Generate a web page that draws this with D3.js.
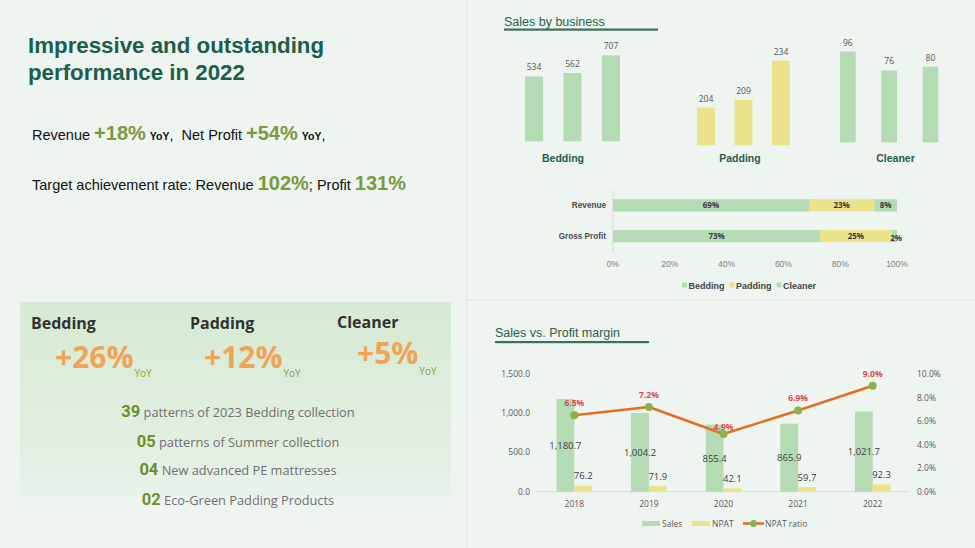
<!DOCTYPE html>
<html><head><meta charset="utf-8">
<script src="https://cdn.jsdelivr.net/npm/d3@7"></script>
<style>
body{margin:0;background:#eef4f0;}
svg{display:block;}
</style>
</head><body>
<svg id="c" width="975" height="548"></svg>
<script>
// ---------------- DATA ----------------
const titleLines = ["Impressive and outstanding", "performance in 2022"];
const yoyMetrics = ["Revenue", "Net Profit"];
const yoyValues = ["+18%", "+54%"];
const targetMetrics = ["Revenue", "Profit"];
const targetValues = ["102%", "131%"];

const businesses = ["Bedding", "Padding", "Cleaner"];
const beddingSales = [534, 562, 707];
const paddingSales = [204, 209, 234];
const cleanerSales = [96, 76, 80];

const shareRows = ["Revenue", "Gross Profit"];
const beddingShare = [69, 73];
const paddingShare = [23, 25];
const cleanerShare = [8, 2];
const shareTicks = [0, 20, 40, 60, 80, 100];

const years = ["2018", "2019", "2020", "2021", "2022"];
const sales = [1180.7, 1004.2, 855.4, 865.9, 1021.7];
const npat = [76.2, 71.9, 42.1, 59.7, 92.3];
const npatRatio = [6.5, 7.2, 4.9, 6.9, 9.0];
const leftTicks = [0, 500, 1000, 1500];
const rightTicks = [0, 2, 4, 6, 8, 10];

const growthNames = ["Bedding", "Padding", "Cleaner"];
const growthValues = ["+26%", "+12%", "+5%"];
const highlightCounts = ["39", "05", "04", "02"];
const highlightTexts = ["patterns of 2023 Bedding collection", "patterns of Summer collection",
  "New advanced PE mattresses", "Eco-Green Padding Products"];

// ---------------- STYLE ----------------
const GREEN = "#b5dbb4", YELLOW = "#ebe38a", ORANGE = "#e2701f", DOT = "#8db04b";
const TEAL = "#1b5e4b", OLIVE = "#7a9a3c";
const SANS = "'Liberation Sans', Arial, sans-serif";
const CAL = "'Open Sans', 'Noto Sans', sans-serif";

const svg = d3.select("#c");
svg.append("rect").attr("width", 975).attr("height", 548).attr("fill", "#eef4f0");

// dividers
svg.append("line").attr("x1", 467).attr("x2", 467).attr("y1", 0).attr("y2", 548).attr("stroke", "#dde4df").attr("stroke-width", 1);
svg.append("line").attr("x1", 469).attr("x2", 469).attr("y1", 0).attr("y2", 548).attr("stroke", "#f7faf8").attr("stroke-width", 1);
svg.append("line").attr("x1", 468).attr("x2", 975).attr("y1", 300).attr("y2", 300).attr("stroke", "#dde4df").attr("stroke-width", 1);
svg.append("line").attr("x1", 468).attr("x2", 975).attr("y1", 302).attr("y2", 302).attr("stroke", "#f7faf8").attr("stroke-width", 1);

// ---------------- TOP LEFT TEXT ----------------
svg.selectAll(".title").data(titleLines).join("text")
  .attr("x", 28).attr("y", (d, i) => 53 + i * 27)
  .attr("font-family", SANS).attr("font-weight", "bold").attr("font-size", 22.3)
  .attr("fill", TEAL).text(d => d);

function richLine(y, parts) {
  const t = svg.append("text").attr("x", 32).attr("y", y).attr("font-family", SANS).attr("fill", "#111")
    .style("white-space", "pre");
  parts.forEach(p => {
    t.append("tspan").text(p.t)
      .attr("font-size", p.s || 14.5)
      .attr("font-weight", p.b ? "bold" : "normal")
      .attr("fill", p.c || "#111");
  });
}
richLine(140, [
  {t: yoyMetrics[0] + " "}, {t: yoyValues[0], s: 20, b: 1, c: OLIVE}, {t: " "}, {t: "YoY", s: 10.5, b: 1},
  {t: ",\u00a0 " + yoyMetrics[1] + " "}, {t: yoyValues[1], s: 20, b: 1, c: OLIVE}, {t: " "}, {t: "YoY", s: 10.5, b: 1}, {t: ","}
]);
richLine(190, [
  {t: "Target achievement rate: " + targetMetrics[0] + " "}, {t: targetValues[0], s: 20, b: 1, c: OLIVE},
  {t: "; " + targetMetrics[1] + " "}, {t: targetValues[1], s: 20, b: 1, c: OLIVE}
]);

// ---------------- BOTTOM LEFT PANEL ----------------
const defs = svg.append("defs");
const grad = defs.append("linearGradient").attr("id", "gpanel").attr("x1", 0).attr("x2", 0).attr("y1", 0).attr("y2", 1);
grad.append("stop").attr("offset", "0%").attr("stop-color", "#d6ead3");
grad.append("stop").attr("offset", "70%").attr("stop-color", "#e1eee0");
grad.append("stop").attr("offset", "100%").attr("stop-color", "#e9f2ea");
svg.append("rect").attr("x", 20).attr("y", 302).attr("width", 431).attr("height", 194).attr("fill", "url(#gpanel)");

const gX = [31, 190, 337];
const gNumX = [55, 204, 357];
const gNumY = [368, 368, 364];
const gYoY = [377, 377, 375];
growthNames.forEach((name, i) => {
  svg.append("text").attr("x", gX[i]).attr("y", i === 2 ? 328 : 329)
    .attr("font-family", CAL).attr("font-weight", "bold").attr("font-size", 16)
    .attr("fill", "#2f3330").text(name);
  const num = svg.append("text").attr("x", gNumX[i]).attr("y", gNumY[i])
    .attr("font-family", CAL).attr("font-weight", "bold").attr("font-size", 30)
    .attr("fill", "#f0a458").text(growthValues[i]);
  const w = num.node().getComputedTextLength();
  svg.append("text").attr("x", gNumX[i] + w + 1).attr("y", gYoY[i])
    .attr("font-family", CAL).attr("font-size", 10).attr("fill", "#8ca33a").text("YoY");
});

const hlY = [417, 447, 475, 505];
highlightCounts.forEach((c, i) => {
  const t = svg.append("text").attr("x", 238).attr("y", hlY[i]).attr("text-anchor", "middle")
    .attr("font-family", CAL);
  t.append("tspan").text(c).attr("font-family", "Roboto, sans-serif").attr("font-weight", "bold")
    .attr("font-size", 16.5).attr("fill", "#6b8f2c");
  t.append("tspan").text(" " + highlightTexts[i]).attr("font-size", 12.8).attr("fill", "#707070");
});

// ---------------- SALES BY BUSINESS ----------------
svg.append("text").attr("x", 504).attr("y", 26).attr("font-family", SANS).attr("font-size", 12.5)
  .attr("fill", "#2b5f4f").text("Sales by business");
svg.append("rect").attr("x", 504).attr("y", 28.5).attr("width", 154).attr("height", 2.2).attr("fill", "#3d6f5f");

const groups = [
  {name: businesses[0], values: beddingSales, color: GREEN, range: [525, 620], pad: 0.53, domain: [0, 800], y: [141.3, 44.1], lx: 563},
  {name: businesses[1], values: paddingSales, color: YELLOW, range: [697, 790], pad: 0.52, domain: [180, 250], y: [145.3, 35.6], lx: 740},
  {name: businesses[2], values: cleanerSales, color: GREEN, range: [840, 938.3], pad: 0.62, domain: [0, 100], y: [142.3, 47.8], lx: 895.5}
];
groups.forEach(g => {
  const x = d3.scaleBand().domain(d3.range(g.values.length)).range(g.range).paddingInner(g.pad).paddingOuter(0);
  const y = d3.scaleLinear().domain(g.domain).range(g.y);
  const gg = svg.append("g");
  gg.selectAll("rect").data(g.values).join("rect")
    .attr("x", (d, i) => x(i)).attr("width", x.bandwidth())
    .attr("y", d => y(d)).attr("height", d => y(g.domain[0]) - y(d))
    .attr("fill", g.color);
  gg.selectAll("text.v").data(g.values).join("text").attr("class", "v")
    .attr("x", (d, i) => x(i) + x.bandwidth() / 2).attr("y", d => y(d) - 6)
    .attr("text-anchor", "middle").attr("font-family", CAL).attr("font-size", 8.5)
    .attr("fill", "#555").text(d => d);
  svg.append("text").attr("x", g.lx).attr("y", 162).attr("text-anchor", "middle")
    .attr("font-family", SANS).attr("font-weight", "bold").attr("font-size", 10.5)
    .attr("fill", "#1f5e4a").text(g.name);
});

// ---------------- SHARE STACKED BAR ----------------
const xs = d3.scaleLinear().domain([0, 100]).range([613, 897]);
const ys = d3.scaleBand().domain(shareRows).range([190, 251.4]).paddingInner(0.6).paddingOuter(0.3);
svg.append("line").attr("x1", 613).attr("x2", 613).attr("y1", 190).attr("y2", 252).attr("stroke", "#d9d9d9");
const shareSeries = [
  {name: businesses[0], vals: beddingShare, color: GREEN},
  {name: businesses[1], vals: paddingShare, color: YELLOW},
  {name: businesses[2], vals: cleanerShare, color: GREEN}
];
shareRows.forEach((row, r) => {
  let acc = 0;
  shareSeries.forEach(s => {
    const v = s.vals[r];
    svg.append("rect").attr("x", xs(acc)).attr("width", xs(acc + v) - xs(acc))
      .attr("y", ys(row)).attr("height", ys.bandwidth()).attr("fill", s.color);
    svg.append("text").attr("x", (xs(acc) + xs(acc + v)) / 2 + (v < 4 ? 2 : 0))
      .attr("y", ys(row) + ys.bandwidth() / 2 + 3 + (v < 4 ? 1.5 : 0))
      .attr("text-anchor", "middle").attr("font-family", CAL).attr("font-weight", "bold")
      .attr("font-size", 8).attr("fill", "#3a3a3a").text(v + "%");
    acc += v;
  });
  svg.append("text").attr("x", 606).attr("y", ys(row) + ys.bandwidth() / 2 + 3)
    .attr("text-anchor", "end").attr("font-family", SANS).attr("font-weight", "bold")
    .attr("font-size", 8.2).attr("fill", "#4a4a4a").text(row);
});
svg.selectAll(".stick").data(shareTicks).join("text")
  .attr("x", d => xs(d)).attr("y", 266.5).attr("text-anchor", "middle")
  .attr("font-family", SANS).attr("font-size", 8.5).attr("fill", "#808080").text(d => d + "%");
// legend
let lx = 682;
shareSeries.forEach(s => {
  svg.append("rect").attr("x", lx).attr("y", 282.5).attr("width", 5).attr("height", 5).attr("fill", s.color);
  const t = svg.append("text").attr("x", lx + 6.5).attr("y", 288.5).attr("font-family", SANS)
    .attr("font-weight", "bold").attr("font-size", 9).attr("fill", "#444").text(s.name);
  lx += 6.5 + t.node().getComputedTextLength() + 5;
});

// ---------------- SALES VS PROFIT MARGIN ----------------
svg.append("text").attr("x", 495).attr("y", 337).attr("font-family", SANS).attr("font-size", 12.5)
  .attr("fill", "#2b5f4f").text("Sales vs. Profit margin");
svg.append("rect").attr("x", 495).attr("y", 341).attr("width", 154).attr("height", 2.2).attr("fill", "#3d6f5f");

const xb = d3.scaleBand().domain(years).range([537, 910]);
const xi = d3.scaleBand().domain(["Sales", "NPAT"]).range([0, xb.bandwidth()]).paddingOuter(1.1);
const yl = d3.scaleLinear().domain([0, 1500]).range([491.7, 374]);
const yr = d3.scaleLinear().domain([0, 10]).range([491.7, 374]);

svg.append("line").attr("x1", 537).attr("x2", 910).attr("y1", 491.7).attr("y2", 491.7).attr("stroke", "#d9d9d9");
svg.selectAll(".lt").data(leftTicks).join("text")
  .attr("x", 530).attr("y", d => yl(d) + 3).attr("text-anchor", "end")
  .attr("font-family", CAL).attr("font-size", 8.5).attr("fill", "#595959")
  .text(d => d3.format(",.1f")(d));
svg.selectAll(".rt").data(rightTicks).join("text")
  .attr("x", 917).attr("y", d => yr(d) + 3).attr("text-anchor", "start")
  .attr("font-family", CAL).attr("font-size", 8.5).attr("fill", "#595959")
  .text(d => d.toFixed(1) + "%");
svg.selectAll(".yt").data(years).join("text")
  .attr("x", d => xb(d) + xb.bandwidth() / 2).attr("y", 506.5).attr("text-anchor", "middle")
  .attr("font-family", CAL).attr("font-size", 8.5).attr("fill", "#595959").text(d => d);

const rows = years.map((y, i) => ({year: y, sales: sales[i], npat: npat[i], ratio: npatRatio[i]}));
svg.selectAll(".sb").data(rows).join("rect")
  .attr("x", d => xb(d.year) + xi("Sales")).attr("width", xi.bandwidth())
  .attr("y", d => yl(d.sales)).attr("height", d => yl(0) - yl(d.sales)).attr("fill", GREEN);
svg.selectAll(".nb").data(rows).join("rect")
  .attr("x", d => xb(d.year) + xi("NPAT")).attr("width", xi.bandwidth())
  .attr("y", d => yl(d.npat)).attr("height", d => yl(0) - yl(d.npat)).attr("fill", YELLOW);
svg.selectAll(".sl").data(rows).join("text")
  .attr("x", d => xb(d.year) + xi("Sales") + xi.bandwidth() / 2)
  .attr("y", d => (yl(d.sales) + yl(0)) / 2 + 3.5).attr("text-anchor", "middle")
  .attr("font-family", CAL).attr("font-size", 9.5).attr("fill", "#404040")
  .text(d => d3.format(",.1f")(d.sales));
svg.selectAll(".nl").data(rows).join("text")
  .attr("x", d => xb(d.year) + xi("NPAT") + xi.bandwidth() / 2)
  .attr("y", d => yl(d.npat) - 6.5).attr("text-anchor", "middle")
  .attr("font-family", CAL).attr("font-size", 9.5).attr("fill", "#404040")
  .text(d => d.npat.toFixed(1));

const cx = d => xb(d.year) + xb.bandwidth() / 2;
svg.append("path").datum(rows)
  .attr("d", d3.line().x(cx).y(d => yr(d.ratio)))
  .attr("fill", "none").attr("stroke", ORANGE).attr("stroke-width", 2.6).attr("stroke-linejoin", "round");
svg.selectAll(".dot").data(rows).join("circle")
  .attr("cx", cx).attr("cy", d => yr(d.ratio)).attr("r", 4).attr("fill", DOT);
svg.selectAll(".rl").data(rows).join("text")
  .attr("x", cx).attr("y", d => yr(d.ratio) - (d.ratio < 5 ? 4 : 9))
  .attr("text-anchor", "middle").attr("font-family", CAL).attr("font-weight", "bold")
  .attr("font-size", 8.5).attr("fill", "#e8434f").text(d => d.ratio.toFixed(1) + "%");

// legend
svg.append("rect").attr("x", 642).attr("y", 521).attr("width", 18).attr("height", 5).attr("fill", GREEN);
svg.append("text").attr("x", 662).attr("y", 526.5).attr("font-family", CAL).attr("font-size", 8.5).attr("fill", "#595959").text("Sales");
svg.append("rect").attr("x", 692).attr("y", 521).attr("width", 18).attr("height", 5).attr("fill", YELLOW);
svg.append("text").attr("x", 712).attr("y", 526.5).attr("font-family", CAL).attr("font-size", 8.5).attr("fill", "#595959").text("NPAT");
svg.append("line").attr("x1", 743).attr("x2", 764).attr("y1", 523.5).attr("y2", 523.5).attr("stroke", ORANGE).attr("stroke-width", 2.6);
svg.append("circle").attr("cx", 753.5).attr("cy", 523.5).attr("r", 3.5).attr("fill", DOT);
svg.append("text").attr("x", 765).attr("y", 526.5).attr("font-family", CAL).attr("font-size", 8.5).attr("fill", "#595959").text("NPAT ratio");
</script>
</body></html>
